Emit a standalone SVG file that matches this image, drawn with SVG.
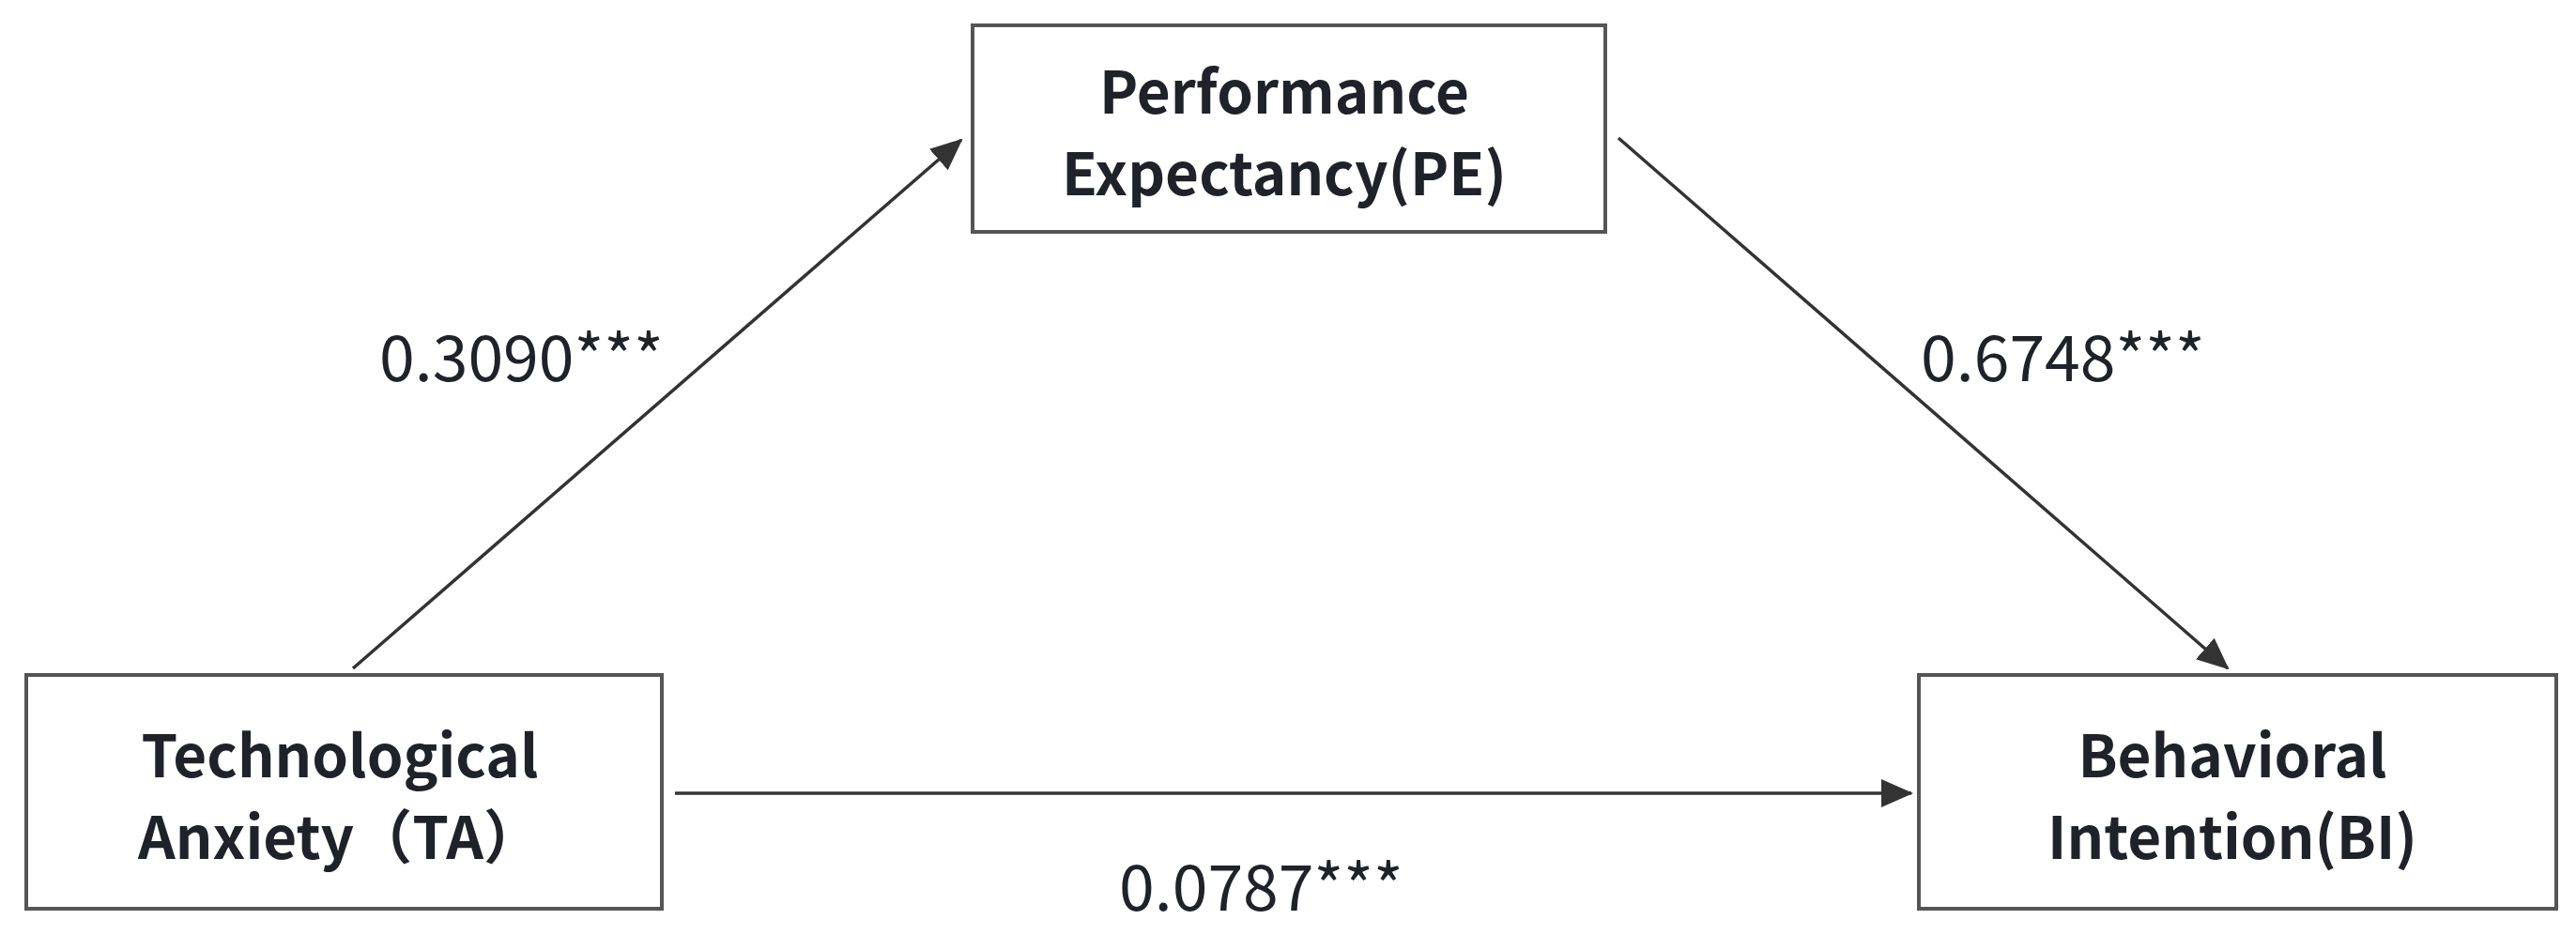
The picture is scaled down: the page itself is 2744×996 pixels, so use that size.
<svg xmlns="http://www.w3.org/2000/svg" width="2744" height="996" viewBox="0 0 2744 996">
<defs>
<style>
.box{fill:#fff;stroke:#555;stroke-width:4}
.nt{font-family:"Noto Sans CJK SC","Noto Sans",sans-serif;font-weight:700;font-size:62px;fill:#1f2329;text-anchor:middle}
.lb{font-family:"Noto Sans CJK SC","Noto Sans",sans-serif;font-weight:400;font-size:68px;fill:#1f2329}
.edge{stroke:#333;stroke-width:3.5;fill:none;marker-end:url(#ah)}
</style>
<marker id="ah" markerUnits="userSpaceOnUse" markerWidth="34" markerHeight="30" viewBox="0 0 34 30" refX="32" refY="15" orient="auto">
<path d="M0,0 L34,15 L0,30 Z" fill="#333"/>
</marker>
</defs>
<rect width="2744" height="996" fill="#fff"/>
<g id="connectors">
<line class="edge" x1="376" y1="712" x2="1024" y2="149"/>
<line class="edge" x1="1724" y1="147" x2="2373" y2="712"/>
<line class="edge" x1="719" y1="845" x2="2036" y2="845"/>
</g>
<g id="labels">
<text class="lb" x="404" y="406">0.3090***</text>
<text class="lb" x="2046" y="406">0.6748***</text>
<text class="lb" x="1192" y="970">0.0787***</text>
</g>
<g id="node-PE">
<rect class="box" x="1036" y="27" width="674" height="220"/>
<text class="nt" x="1368" y="121">Performance</text>
<text class="nt" x="1368" y="208">Expectancy(PE)</text>
</g>
<g id="node-TA">
<rect class="box" x="28" y="719" width="677" height="249"/>
<text class="nt" x="362" y="828">Technological</text>
<text class="nt" x="362" y="915">Anxiety（TA）</text>
</g>
<g id="node-BI">
<rect class="box" x="2044" y="719" width="679" height="249"/>
<text class="nt" x="2378" y="828">Behavioral</text>
<text class="nt" x="2378" y="915">Intention(BI)</text>
</g>
</svg>
